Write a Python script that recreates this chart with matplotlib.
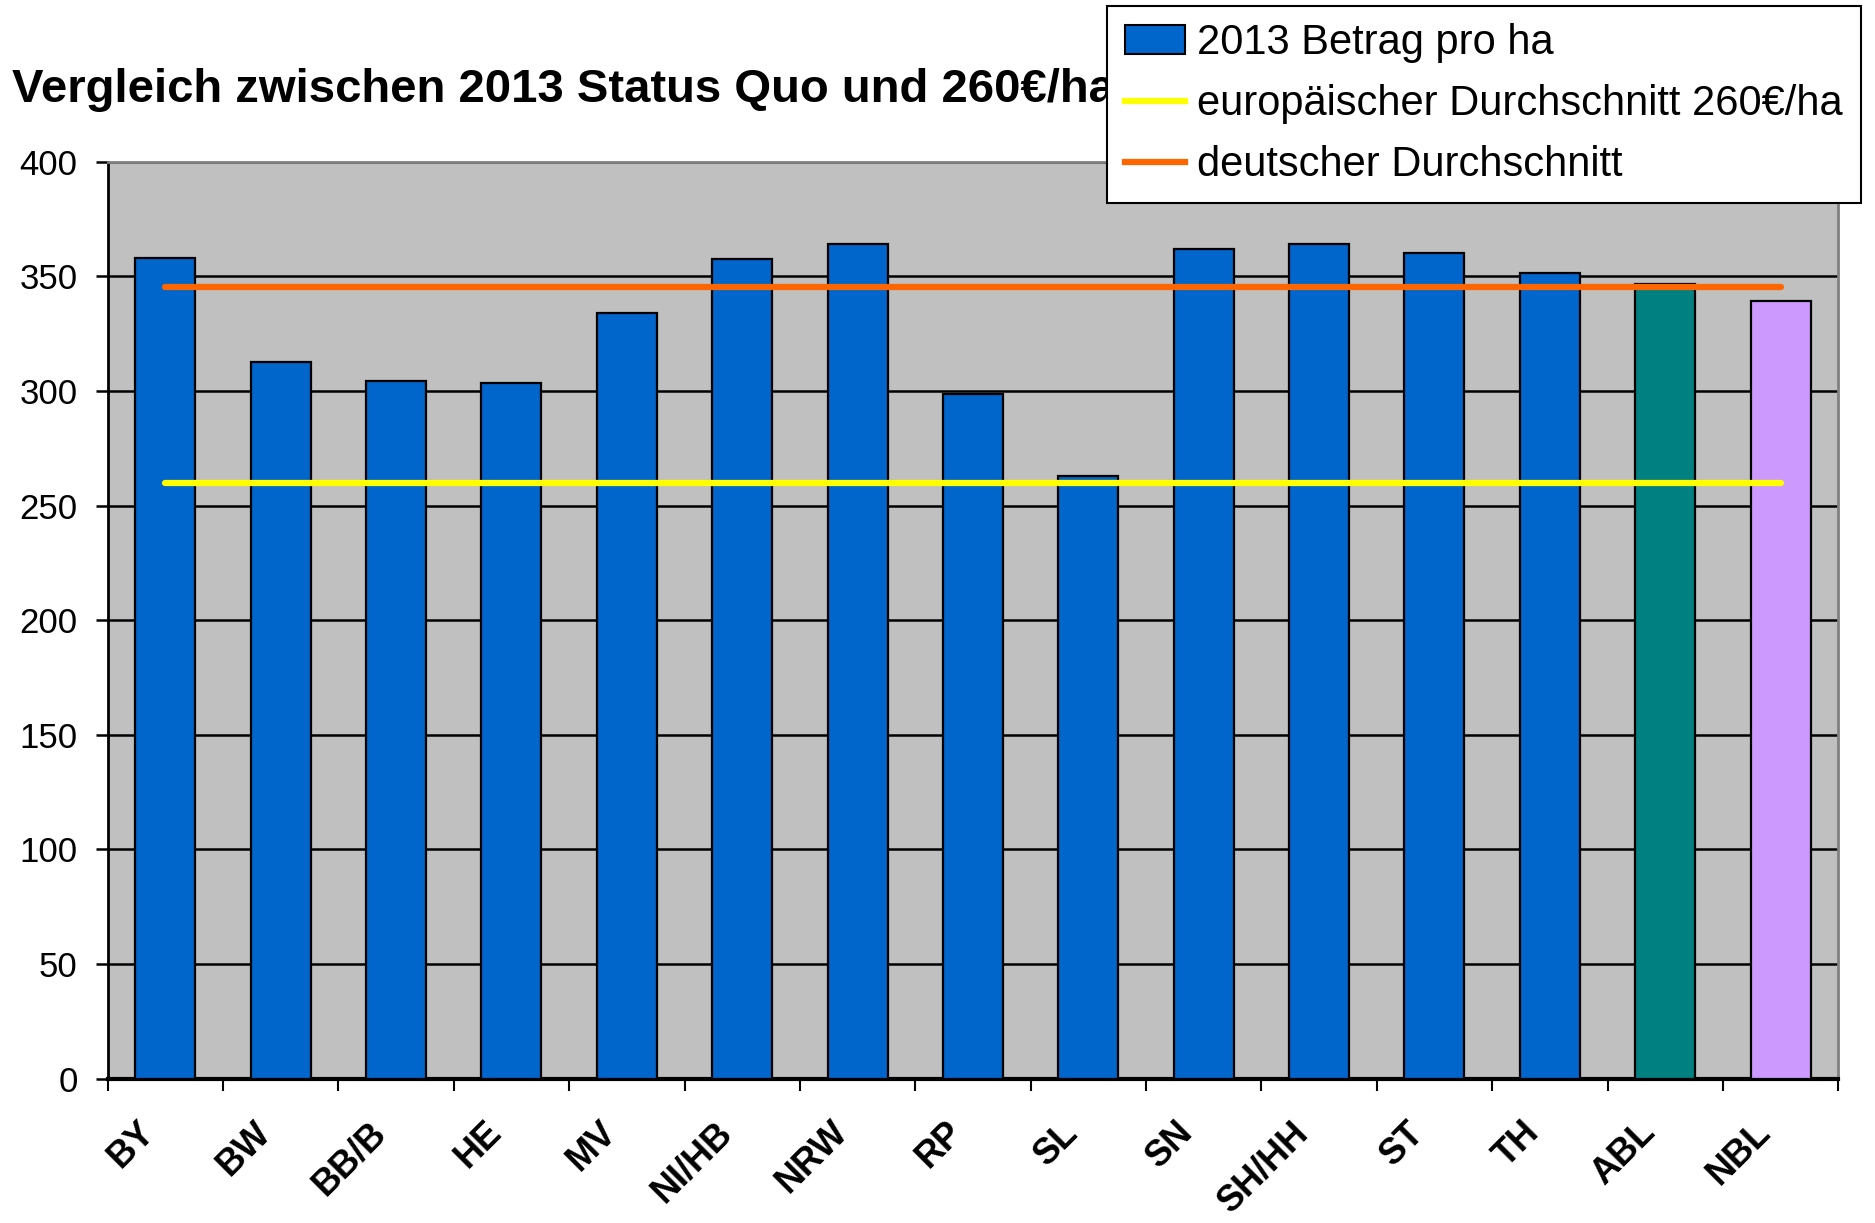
import matplotlib
matplotlib.use("Agg")
import matplotlib.pyplot as plt
import matplotlib.transforms as mtransforms
from matplotlib.patches import Patch
from matplotlib.lines import Line2D

plt.rcParams['font.family'] = ['Liberation Sans', 'DejaVu Sans']

categories = ["BY", "BW", "BB/B", "HE", "MV", "NI/HB", "NRW", "RP", "SL", "SN",
              "SH/HH", "ST", "TH", "ABL", "NBL"]
betrag_2013 = [358, 312.5, 304.5, 303.5, 334, 357.3, 364.2, 298.7, 262.8, 362,
               364.2, 360, 351.3, 346.8, 339.4]
eu_avg = [260] * len(categories)
de_avg = [345.3] * len(categories)
bar_colors = ["#0066CC"] * 13 + ["#008080", "#CC99FF"]

title = "Vergleich zwischen 2013 Status Quo und 260€/ha"
legend_labels = ["2013 Betrag pro ha", "europäischer Durchschnitt 260€/ha",
                 "deutscher Durchschnitt"]
yticks = [0, 50, 100, 150, 200, 250, 300, 350, 400]

fig = plt.figure(figsize=(18.75, 12.23), dpi=100)
ax = fig.add_axes([0.0574, 0.1179, 0.923, 0.750])
ax.set_facecolor("#C0C0C0")

x = list(range(len(categories)))
ax.bar(x, betrag_2013, width=0.52, color=bar_colors, edgecolor="black",
       linewidth=1.6, zorder=3)
ax.plot(x, eu_avg, color="#FFFF00", linewidth=4.5, solid_capstyle="round", zorder=4)
ax.plot(x, de_avg, color="#FF6600", linewidth=4.5, solid_capstyle="round", zorder=4)

ax.set_xlim(-0.5, len(categories) - 0.5)
ax.set_ylim(0, 400)
ax.set_yticks(yticks)
ax.set_yticklabels([str(v) for v in yticks], fontsize=25)
ax.yaxis.grid(True, color="black", linewidth=1.8, zorder=1)
ax.set_axisbelow(True)
ax.tick_params(axis="y", direction="out", length=8.6, width=1.8, pad=13)

# category labels at centres, tick marks at boundaries
ax.set_xticks(x)
ax.set_xticklabels(categories, fontsize=26, fontweight="bold", rotation=45,
                   ha="right", va="top", rotation_mode="anchor")
ax.tick_params(axis="x", which="major", length=0, pad=26)
offset = mtransforms.ScaledTranslation(-28 / 100, 0, fig.dpi_scale_trans)
for lab in ax.get_xticklabels():
    lab.set_transform(lab.get_transform() + offset)
ax.set_xticks([i - 0.5 for i in range(len(categories) + 1)], minor=True)
ax.tick_params(axis="x", which="minor", direction="out", length=8.6, width=1.5)

ax.spines["left"].set_color("black")
ax.spines["left"].set_linewidth(2)
ax.spines["bottom"].set_color("black")
ax.spines["bottom"].set_linewidth(3)
for s in ["top", "right"]:
    ax.spines[s].set_color("#808080")
    ax.spines[s].set_linewidth(2)

fig.text(0.0064, 0.917, title, fontsize=34, fontweight="bold", va="baseline", ha="left")

handles = [Patch(facecolor="#0066CC", edgecolor="black", linewidth=1.5),
           Line2D([0], [0], color="#FFFF00", linewidth=4.5),
           Line2D([0], [0], color="#FF6600", linewidth=4.5)]
leg = fig.legend(handles, legend_labels, loc="upper left",
                 bbox_to_anchor=(0.5904, 0.9951), fontsize=30, frameon=True,
                 framealpha=1, fancybox=False, borderpad=0.42, labelspacing=0.5,
                 handlelength=1.44, handletextpad=0.31, borderaxespad=0)
leg.get_frame().set_edgecolor("black")
leg.get_frame().set_facecolor("white")
leg.get_frame().set_linewidth(1.5)
leg.set_zorder(10)

fig.savefig("out.png", dpi=100, facecolor="white")
